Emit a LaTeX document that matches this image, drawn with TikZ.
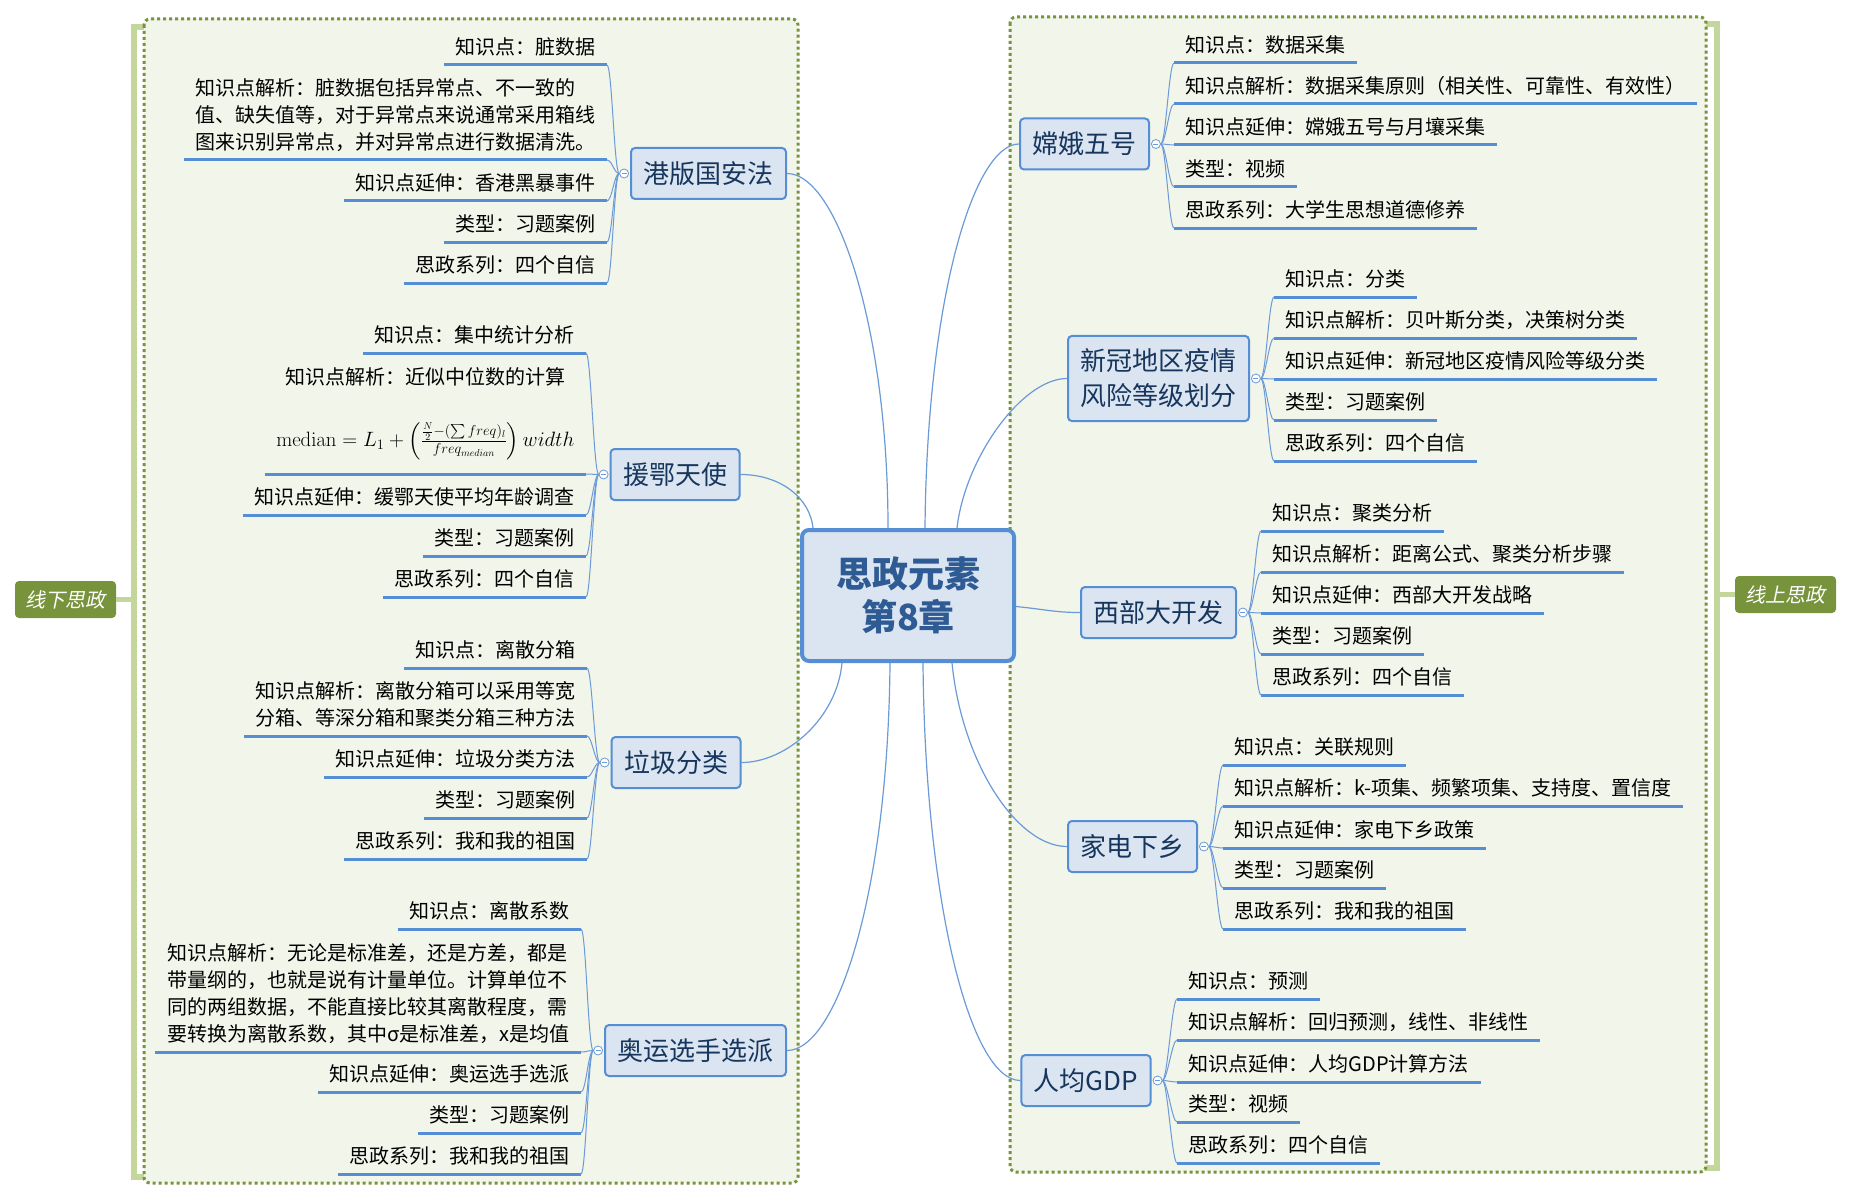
\documentclass[tikz,border=0pt]{standalone}
\usepackage{amsmath}
\usepackage[no-math]{fontspec}
\setmainfont{Noto Sans CJK SC}
\newfontfamily\slantfont[FakeSlant=0.2]{Noto Sans CJK SC}
\usetikzlibrary{positioning}

\definecolor{linkblue}{HTML}{6A9AD8}
\definecolor{lineblue}{HTML}{558ED5}
\definecolor{topicfill}{HTML}{DBE5F1}
\definecolor{topicink}{HTML}{17365D}
\definecolor{coreink}{HTML}{2E5B94}
\definecolor{zonefill}{HTML}{F2F5EA}
\definecolor{zoneline}{HTML}{77933C}
\definecolor{bracegreen}{HTML}{C3D69B}

\newcommand\leaffont{\fontsize{20}{27}\selectfont}
\newcommand\leaflines[1]{\begin{tabular}[b]{@{}l@{}}#1\end{tabular}}

\begin{document}
\begin{tikzpicture}[x=1pt,y=-1pt,
  zone/.style={draw=zoneline,fill=zonefill,line width=3pt,dash pattern=on 3pt off 3pt,rounded corners=6pt},
  brace/.style={draw=bracegreen,line width=5.5pt},
  tag/.style={fill=zoneline,text=white,font=\slantfont\leaffont,rounded corners=4pt,minimum width=101pt,minimum height=37pt,inner sep=0pt},
  core/.style={draw=lineblue,fill=topicfill,line width=4pt,rounded corners=7pt,minimum width=212pt,minimum height=131pt,align=center,text=coreink,font=\fontsize{36}{43}\selectfont\bfseries},
  topic/.style={draw=lineblue,fill=topicfill,line width=2pt,rounded corners=4pt,inner xsep=12.5pt,inner ysep=13pt,minimum height=51pt,align=center,text=topicink,font=\fontsize{26}{35}\selectfont},
  hub/.style={circle,draw=linkblue,fill=white,line width=0.8pt,minimum size=9pt,inner sep=0pt,
    path picture={\draw[linkblue,line width=0.8pt] ([xshift=2pt]path picture bounding box.west) -- ([xshift=-2pt]path picture bounding box.east);}},
  uline/.style={draw=lineblue,line width=3pt},
  leaf/.style={font=\leaffont,inner xsep=11.5pt,inner ysep=6.4pt,text depth=4pt,
    append after command={(\tikzlastnode.south west) edge[uline] (\tikzlastnode.south east)}},
  leafl/.style={leaf,anchor=south east},
  leafr/.style={leaf,anchor=south west},
  twig/.style={draw=linkblue,line width=1pt},
  limb/.style={draw=linkblue,line width=1.2pt}]
\useasboundingbox[fill=white] (0,0) rectangle (1852,1201);

% two zones with their brackets
\draw[brace] (147,27) -| (134,1177) -- (147,1177);
\draw[brace] (1703,24) -| (1717,1168) -- (1703,1168);
\draw[zone] (144,19) rectangle (798,1183);
\draw[zone] (1010,17) rectangle (1706,1172);
\node[tag] (offline) at (65.5,599.5) {线下思政};
\node[tag] (online) at (1785.5,594.5) {线上思政};
\coordinate (lknot) at (134,599.5);
\coordinate (rknot) at (1717,594.5);
\draw[brace] (offline) -- (lknot);
\draw[brace] (online) -- (rknot);

\node[core] (core) at (908,595.5) {思政元素\\第8章};

% left side
\node[topic] (gangban) at (708.5,173.5) {港版国安法};
\node[hub,left=1pt of gangban] (h1) {};
\node[leafl] (g1a) at (607,65) {知识点：脏数据};
\node[leafl] (g1b) at (607,160) {\leaflines{知识点解析：脏数据包括异常点、不一致的\\值、缺失值等，对于异常点来说通常采用箱线\\图来识别异常点，并对异常点进行数据清洗。}};
\node[leafl] (g1c) at (607,201) {知识点延伸：香港黑暴事件};
\node[leafl] (g1d) at (607,242) {类型：习题案例};
\node[leafl] (g1e) at (607,283) {思政系列：四个自信};
\foreach \n in {g1a,g1b,g1c,g1d,g1e}
  \draw[twig] (h1.west) .. controls +(-5,0) and +(5,0) .. (\n.south east);

\node[topic] (yuane) at (675,474.5) {援鄂天使};
\node[hub,left=1pt of yuane] (h2) {};
\node[leafl] (g2a) at (586,353) {知识点：集中统计分析};
\node[leafl,text depth=20.6pt] (g2b) at (586,474) {\begin{tabular}[b]{@{}c@{}}知识点解析：近似中位数的计算\\[30pt]
  $\mathrm{median}=L_1+\left(\frac{\frac{N}{2}-(\sum freq)_l}{freq_{median}}\right)width$\end{tabular}};
\node[leafl] (g2c) at (586,515) {知识点延伸：缓鄂天使平均年龄调查};
\node[leafl] (g2d) at (586,556) {类型：习题案例};
\node[leafl] (g2e) at (586,597) {思政系列：四个自信};
\foreach \n in {g2a,g2b,g2c,g2d,g2e}
  \draw[twig] (h2.west) .. controls +(-5,0) and +(5,0) .. (\n.south east);

\node[topic] (laji) at (676,762.5) {垃圾分类};
\node[hub,left=1pt of laji] (h3) {};
\node[leafl] (g3a) at (587,668) {知识点：离散分箱};
\node[leafl] (g3b) at (587,736) {\leaflines{知识点解析：离散分箱可以采用等宽\\分箱、等深分箱和聚类分箱三种方法}};
\node[leafl] (g3c) at (587,777) {知识点延伸：垃圾分类方法};
\node[leafl] (g3d) at (587,818) {类型：习题案例};
\node[leafl] (g3e) at (587,859) {思政系列：我和我的祖国};
\foreach \n in {g3a,g3b,g3c,g3d,g3e}
  \draw[twig] (h3.west) .. controls +(-5,0) and +(5,0) .. (\n.south east);

\node[topic] (aoyun) at (695.5,1050.5) {奥运选手选派};
\node[hub,left=1pt of aoyun] (h4) {};
\node[leafl] (g4a) at (581,929) {知识点：离散系数};
\node[leafl] (g4b) at (581,1052) {\leaflines{知识点解析：无论是标准差，还是方差，都是\\带量纲的，也就是说有计量单位。计算单位不\\同的两组数据，不能直接比较其离散程度，需\\要转换为离散系数，其中σ是标准差，x是均值}};
\node[leafl] (g4c) at (581,1092) {知识点延伸：奥运选手选派};
\node[leafl] (g4d) at (581,1133) {类型：习题案例};
\node[leafl] (g4e) at (581,1174) {思政系列：我和我的祖国};
\foreach \n in {g4a,g4b,g4c,g4d,g4e}
  \draw[twig] (h4.west) .. controls +(-5,0) and +(5,0) .. (\n.south east);

% right side
\node[topic] (change) at (1084.5,144) {嫦娥五号};
\node[hub,right=1pt of change] (h5) {};
\node[leafr] (r1a) at (1174,63) {知识点：数据采集};
\node[leafr] (r1b) at (1174,104) {知识点解析：数据采集原则（相关性、可靠性、有效性）};
\node[leafr] (r1c) at (1174,145) {知识点延伸：嫦娥五号与月壤采集};
\node[leafr] (r1d) at (1174,187) {类型：视频};
\node[leafr] (r1e) at (1174,228) {思政系列：大学生思想道德修养};
\foreach \n in {r1a,r1b,r1c,r1d,r1e}
  \draw[twig] (h5.east) .. controls +(5,0) and +(-5,0) .. (\n.south west);

\node[topic] (xinguan) at (1158.5,378.5) {新冠地区疫情\\风险等级划分};
\node[hub,right=1pt of xinguan] (h6) {};
\node[leafr] (r2a) at (1274,297) {知识点：分类};
\node[leafr] (r2b) at (1274,338) {知识点解析：贝叶斯分类，决策树分类};
\node[leafr] (r2c) at (1274,379) {知识点延伸：新冠地区疫情风险等级分类};
\node[leafr] (r2d) at (1274,420) {类型：习题案例};
\node[leafr] (r2e) at (1274,461) {思政系列：四个自信};
\foreach \n in {r2a,r2b,r2c,r2d,r2e}
  \draw[twig] (h6.east) .. controls +(5,0) and +(-5,0) .. (\n.south west);

\node[topic] (xibu) at (1158.5,612.5) {西部大开发};
\node[hub,right=1pt of xibu] (h7) {};
\node[leafr] (r3a) at (1261,531) {知识点：聚类分析};
\node[leafr] (r3b) at (1261,572) {知识点解析：距离公式、聚类分析步骤};
\node[leafr] (r3c) at (1261,613) {知识点延伸：西部大开发战略};
\node[leafr] (r3d) at (1261,654) {类型：习题案例};
\node[leafr] (r3e) at (1261,695) {思政系列：四个自信};
\foreach \n in {r3a,r3b,r3c,r3d,r3e}
  \draw[twig] (h7.east) .. controls +(5,0) and +(-5,0) .. (\n.south west);

\node[topic] (jiadian) at (1132.5,846.5) {家电下乡};
\node[hub,right=1pt of jiadian] (h8) {};
\node[leafr] (r4a) at (1223,765) {知识点：关联规则};
\node[leafr] (r4b) at (1223,806) {知识点解析：k-项集、频繁项集、支持度、置信度};
\node[leafr] (r4c) at (1223,848) {知识点延伸：家电下乡政策};
\node[leafr] (r4d) at (1223,888) {类型：习题案例};
\node[leafr] (r4e) at (1223,929) {思政系列：我和我的祖国};
\foreach \n in {r4a,r4b,r4c,r4d,r4e}
  \draw[twig] (h8.east) .. controls +(5,0) and +(-5,0) .. (\n.south west);

\node[topic] (gdp) at (1086,1080.5) {人均GDP};
\node[hub,right=1pt of gdp] (h9) {};
\node[leafr] (r5a) at (1177,999) {知识点：预测};
\node[leafr] (r5b) at (1177,1040) {知识点解析：回归预测，线性、非线性};
\node[leafr] (r5c) at (1177,1082) {知识点延伸：人均GDP计算方法};
\node[leafr] (r5d) at (1177,1122) {类型：视频};
\node[leafr] (r5e) at (1177,1163) {思政系列：四个自信};
\foreach \n in {r5a,r5b,r5c,r5d,r5e}
  \draw[twig] (h9.east) .. controls +(5,0) and +(-5,0) .. (\n.south west);

% from the centre out to every topic
\draw[limb] ([xshift=-95pt]core.north) .. controls +(-3,-30) and +(40,0) .. (yuane.east);
\draw[limb] ([xshift=-20pt]core.north) .. controls +(0,-200) and +(50,0) .. (gangban.east);
\draw[limb] ([xshift=17pt]core.north) .. controls +(2,-230) and +(-45,0) .. (change.west);
\draw[limb] ([xshift=49pt]core.north) .. controls +(8,-70) and +(-45,0) .. (xinguan.west);
\draw[limb] ([yshift=-11pt]core.east) .. controls +(30,3) and +(-25,0) .. (xibu.west);
\draw[limb] ([xshift=-66pt]core.south) .. controls +(-5,55) and +(45,0) .. (laji.east);
\draw[limb] ([xshift=-18pt]core.south) .. controls +(-2,230) and +(50,0) .. (aoyun.east);
\draw[limb] ([xshift=15pt]core.south) .. controls +(2,240) and +(-50,0) .. (gdp.west);
\draw[limb] ([xshift=44pt]core.south) .. controls +(10,100) and +(-50,0) .. (jiadian.west);
\end{tikzpicture}
\end{document}
